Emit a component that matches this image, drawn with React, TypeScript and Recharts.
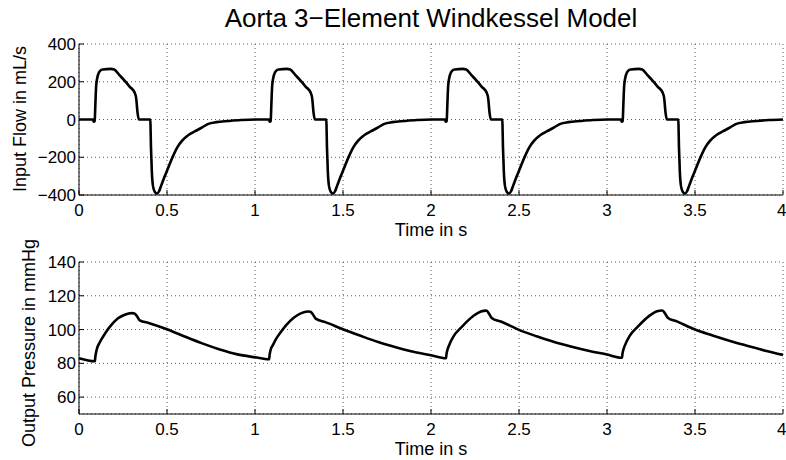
import { CartesianGrid, Line, LineChart, XAxis, YAxis } from "recharts";

const FONT = "'Liberation Sans', Arial, Helvetica, sans-serif";

const timeTicks = [0, 0.5, 1, 1.5, 2, 2.5, 3, 3.5, 4];
const flowTicks = [-400, -200, 0, 200, 400];
const pressureTicks = [60, 80, 100, 120, 140];

// input flow (mL/s)
const flowTime = [
  0, 0.08, 0.084, 0.089, 0.093, 0.097, 0.102, 0.11, 0.12, 0.135, 0.18, 0.2, 0.23, 0.26, 0.29, 0.315, 0.325, 0.332, 0.34,
  0.405, 0.409, 0.414, 0.42, 0.43, 0.442, 0.455, 0.465, 0.48, 0.5, 0.52, 0.54, 0.56, 0.585, 0.62, 0.66, 0.7, 0.735, 0.78, 0.85, 0.92,
  1, 1.08, 1.084, 1.089, 1.093, 1.097, 1.102, 1.11, 1.12, 1.135, 1.18, 1.2, 1.23, 1.26, 1.29, 1.315, 1.325, 1.332, 1.34,
  1.405, 1.409, 1.414, 1.42, 1.43, 1.442, 1.455, 1.465, 1.48, 1.5, 1.52, 1.54, 1.56, 1.585, 1.62, 1.66, 1.7, 1.735, 1.78, 1.85, 1.92,
  2, 2.08, 2.084, 2.089, 2.093, 2.097, 2.102, 2.11, 2.12, 2.135, 2.18, 2.2, 2.23, 2.26, 2.29, 2.315, 2.325, 2.332, 2.34,
  2.405, 2.409, 2.414, 2.42, 2.43, 2.442, 2.455, 2.465, 2.48, 2.5, 2.52, 2.54, 2.56, 2.585, 2.62, 2.66, 2.7, 2.735, 2.78, 2.85, 2.92,
  3, 3.08, 3.084, 3.089, 3.093, 3.097, 3.102, 3.11, 3.12, 3.135, 3.18, 3.2, 3.23, 3.26, 3.29, 3.315, 3.325, 3.332, 3.34,
  3.405, 3.409, 3.414, 3.42, 3.43, 3.442, 3.455, 3.465, 3.48, 3.5, 3.52, 3.54, 3.56, 3.585, 3.62, 3.66, 3.7, 3.735, 3.78, 3.85, 3.92,
  4,
];
const flowValue = [
  0, 0, -12, -8, 80, 170, 212, 242, 258, 265, 268, 265, 235, 205, 172, 145, 112, 40, 0,
  0, -150, -280, -350, -382, -392, -380, -355, -318, -272, -225, -182, -145, -113, -83, -62, -42, -23, -14, -8, -3,
  0, 0, -12, -8, 80, 170, 212, 242, 258, 265, 268, 265, 235, 205, 172, 145, 112, 40, 0,
  0, -150, -280, -350, -382, -392, -380, -355, -318, -272, -225, -182, -145, -113, -83, -62, -42, -23, -14, -8, -3,
  0, 0, -12, -8, 80, 170, 212, 242, 258, 265, 268, 265, 235, 205, 172, 145, 112, 40, 0,
  0, -150, -280, -350, -382, -392, -380, -355, -318, -272, -225, -182, -145, -113, -83, -62, -42, -23, -14, -8, -3,
  0, 0, -12, -8, 80, 170, 212, 242, 258, 265, 268, 265, 235, 205, 172, 145, 112, 40, 0,
  0, -150, -280, -350, -382, -392, -380, -355, -318, -272, -225, -182, -145, -113, -83, -62, -42, -23, -14, -8, -3,
  0,
];

// output pressure (mmHg)
const pressureTime = [
  0, 0.09, 0.093, 0.1, 0.12, 0.15, 0.176, 0.22, 0.26, 0.3, 0.315, 0.33, 0.345, 0.4, 0.5, 0.6, 0.7, 0.8, 0.9, 1, 1.08,
  1.083, 1.09, 1.1, 1.12, 1.15, 1.176, 1.22, 1.26, 1.3, 1.315, 1.33, 1.345, 1.4, 1.5, 1.6, 1.7, 1.8, 1.9, 2, 2.085,
  2.088, 2.095, 2.1, 2.128, 2.175, 2.24, 2.28, 2.315, 2.33, 2.345, 2.4, 2.5, 2.6, 2.7, 2.8, 2.9, 3, 3.085,
  3.088, 3.095, 3.1, 3.128, 3.175, 3.24, 3.28, 3.315, 3.33, 3.345, 3.4, 3.5, 3.6, 3.7, 3.8, 3.9, 4,
];
const pressureValue = [
  83, 81.2, 84, 87.9, 92.8, 98, 101.7, 106.5, 108.8, 109.7, 109.5, 107.8, 105.5, 103.8, 100.2, 95.9, 91.8, 88.2, 85.3, 83.6, 82.4,
  85, 88.5, 90.5, 94.5, 99, 102.5, 107, 109.6, 110.7, 110.5, 108.8, 106.5, 104.4, 100.2, 96.3, 92.6, 89.5, 86.8, 84.8, 83,
  85.5, 88.5, 90, 96, 101.6, 108, 110.6, 111.2, 109.4, 106.9, 104.6, 99.8, 96, 92.6, 89.8, 87.3, 85.2, 83.3,
  85.7, 88.7, 90.2, 96.1, 101.7, 108.1, 110.7, 111.3, 109.5, 107, 104.7, 100, 96.5, 93.2, 90.3, 87.5, 85,
];

const flowData = flowTime.map((t, i) => ({ t, v: flowValue[i] }));
const pressureData = pressureTime.map((t, i) => ({ t, v: pressureValue[i] }));

const tickStyle = { fontSize: 17, fill: "#000", fontFamily: FONT };
const fmt = (v: number) => String(v).replace("-", "\u2212");

function Panel({ data, domain, ticks, marginTop, xAxisHeight }: {
  data: { t: number; v: number }[]; domain: [number, number]; ticks: number[];
  marginTop: number; xAxisHeight: number;
}) {
  return (
    <LineChart width={786} height={230} data={data} margin={{ top: marginTop, right: 3, left: 0, bottom: 0 }}>
      <CartesianGrid stroke="#333" strokeDasharray="1 3" strokeWidth={0.8} />
      <XAxis dataKey="t" type="number" domain={[0, 4]} ticks={timeTicks} height={xAxisHeight}
        tick={tickStyle} tickSize={-5} tickMargin={14} axisLine={{ stroke: "#000" }} tickLine={{ stroke: "#000" }} />
      <XAxis xAxisId="top" orientation="top" dataKey="t" type="number" domain={[0, 4]} ticks={timeTicks} height={0}
        tick={false} tickSize={-5} axisLine={{ stroke: "#000" }} tickLine={{ stroke: "#000" }} />
      <YAxis type="number" domain={domain} ticks={ticks} width={79} tickFormatter={fmt}
        tick={tickStyle} tickSize={-5} tickMargin={8} axisLine={{ stroke: "#000" }} tickLine={{ stroke: "#000" }} />
      <YAxis yAxisId="right" orientation="right" type="number" domain={domain} ticks={ticks} width={0}
        tick={false} tickSize={-5} axisLine={{ stroke: "#000" }} tickLine={{ stroke: "#000" }} />
      <Line type="monotone" dataKey="v" stroke="#000" strokeWidth={2.6} dot={false} isAnimationActive={false} />
    </LineChart>
  );
}

export default function App() {
  return (
    <div style={{ position: "absolute", left: 0, top: 0, width: 786, height: 460, background: "#fff", fontFamily: FONT }}>
      <div style={{ position: "absolute", left: 0, top: 0 }}>
        <Panel data={flowData} domain={[-400, 400]} ticks={flowTicks} marginTop={44} xAxisHeight={35} />
      </div>
      <div style={{ position: "absolute", left: 0, top: 230 }}>
        <Panel data={pressureData} domain={[50, 140]} ticks={pressureTicks} marginTop={32} xAxisHeight={46} />
      </div>
      <svg width={786} height={460} style={{ position: "absolute", left: 0, top: 0, pointerEvents: "none" }}
        fontFamily={FONT} fill="#000">
        <text x={431} y={27} fontSize={26} textAnchor="middle">Aorta 3{"\u2212"}Element Windkessel Model</text>
        <text x={431} y={236} fontSize={18} textAnchor="middle">Time in s</text>
        <text x={431} y={455} fontSize={18} textAnchor="middle">Time in s</text>
        <text x={26} y={119} fontSize={18} textAnchor="middle" transform="rotate(-90 26 119)">Input Flow in mL/s</text>
        <text x={35} y={343} fontSize={18} textAnchor="middle" transform="rotate(-90 35 343)">Output Pressure in mmHg</text>
      </svg>
    </div>
  );
}
